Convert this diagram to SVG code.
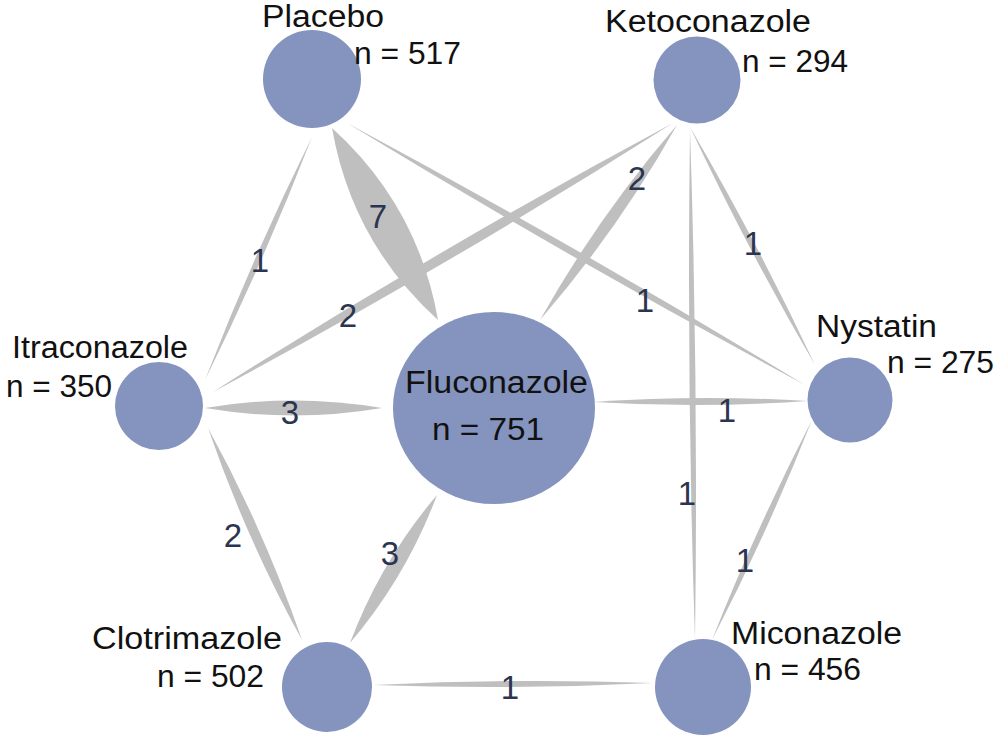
<svg xmlns="http://www.w3.org/2000/svg" width="1000" height="747" viewBox="0 0 1000 747">
<style>
.node{fill:#8494be;}
.edge{fill:#bfbfbf;}
.nt{font-family:"Liberation Sans",Arial,sans-serif;font-size:31px;fill:#111111;}
.el{font-family:"Liberation Sans",Arial,sans-serif;font-size:33px;fill:#2c3550;text-anchor:middle;}
</style>
<rect width="1000" height="747" fill="#ffffff"/>
<g id="connectors">
<path class="edge" d="M312,137 Q264,260.9 205,380 Q253,256.1 312,137Z"/>
<path class="edge" d="M332,128 Q418,205.8 438,320 Q352,242.2 332,128Z"/>
<path class="edge" d="M347,123 Q579.5,247.9 805,385 Q572.5,260.1 347,123Z"/>
<path class="edge" d="M673,123 Q448,266.1 213,392 Q438,248.9 673,123Z"/>
<path class="edge" d="M677,125 Q618.3,229.4 540,320 Q598.7,215.6 677,125Z"/>
<path class="edge" d="M690,127 Q757.8,243.2 815,365 Q747.2,248.8 690,127Z"/>
<path class="edge" d="M690,130 Q698.5,385 695,640 Q686.5,385 690,130Z"/>
<path class="edge" d="M205,408 Q293.5,423 382,408 Q293.5,393 205,408Z"/>
<path class="edge" d="M208,428 Q264.1,530 302,640 Q245.9,538 208,428Z"/>
<path class="edge" d="M593,402 Q700.5,408.5 808,401 Q700.5,394.5 593,402Z"/>
<path class="edge" d="M437,495 Q406.4,576.6 350,643 Q380.6,561.4 437,495Z"/>
<path class="edge" d="M812,420 Q767.5,532.5 712,640 Q756.5,527.5 812,420Z"/>
<path class="edge" d="M373,685 Q513,690 653,683 Q513,678 373,685Z"/>
<text class="el" x="260" y="272">1</text>
<text class="el" x="378" y="228">7</text>
<text class="el" x="645" y="312">1</text>
<text class="el" x="348" y="327">2</text>
<text class="el" x="637" y="190">2</text>
<text class="el" x="753" y="255">1</text>
<text class="el" x="687" y="505">1</text>
<text class="el" x="290" y="424">3</text>
<text class="el" x="233" y="547">2</text>
<text class="el" x="727" y="422">1</text>
<text class="el" x="390" y="565">3</text>
<text class="el" x="745" y="572">1</text>
<text class="el" x="510" y="699">1</text>
</g>
<g id="placebo">
<circle class="node" cx="312" cy="79" r="49"/>
<text class="nt" x="262" y="27" textLength="122" lengthAdjust="spacingAndGlyphs">Placebo</text>
<text class="nt" x="354" y="64" textLength="107" lengthAdjust="spacingAndGlyphs">n = 517</text>
</g>
<g id="ketoconazole">
<circle class="node" cx="697" cy="80" r="43.5"/>
<text class="nt" x="605" y="32" textLength="206" lengthAdjust="spacingAndGlyphs">Ketoconazole</text>
<text class="nt" x="742" y="72" textLength="106" lengthAdjust="spacingAndGlyphs">n = 294</text>
</g>
<g id="itraconazole">
<circle class="node" cx="159" cy="406" r="44"/>
<text class="nt" x="12" y="358" textLength="176" lengthAdjust="spacingAndGlyphs">Itraconazole</text>
<text class="nt" x="6" y="397" textLength="106" lengthAdjust="spacingAndGlyphs">n = 350</text>
</g>
<g id="fluconazole">
<ellipse class="node" cx="494" cy="408" rx="101" ry="96"/>
<text class="nt" x="405" y="393" textLength="183" lengthAdjust="spacingAndGlyphs">Fluconazole</text>
<text class="nt" x="432" y="440" textLength="112" lengthAdjust="spacingAndGlyphs">n = 751</text>
</g>
<g id="nystatin">
<circle class="node" cx="850" cy="400" r="42.5"/>
<text class="nt" x="816" y="337" textLength="121" lengthAdjust="spacingAndGlyphs">Nystatin</text>
<text class="nt" x="887" y="373" textLength="107" lengthAdjust="spacingAndGlyphs">n = 275</text>
</g>
<g id="clotrimazole">
<circle class="node" cx="327" cy="687" r="45"/>
<text class="nt" x="92" y="649" textLength="190" lengthAdjust="spacingAndGlyphs">Clotrimazole</text>
<text class="nt" x="157" y="687" textLength="107" lengthAdjust="spacingAndGlyphs">n = 502</text>
</g>
<g id="miconazole">
<circle class="node" cx="703" cy="687" r="48"/>
<text class="nt" x="731" y="644" textLength="171" lengthAdjust="spacingAndGlyphs">Miconazole</text>
<text class="nt" x="754" y="680" textLength="107" lengthAdjust="spacingAndGlyphs">n = 456</text>
</g>
</svg>
